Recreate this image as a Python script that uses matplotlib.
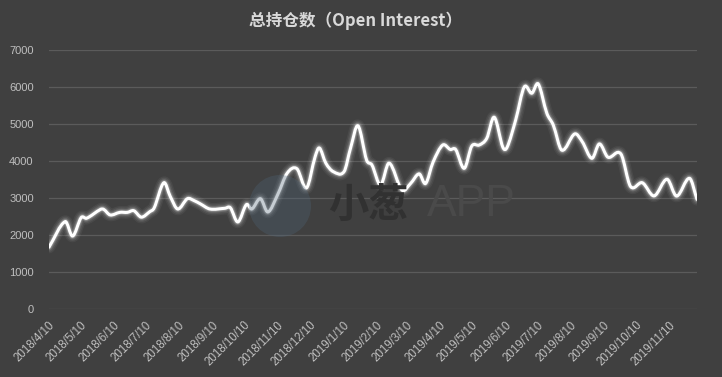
import matplotlib
matplotlib.use("Agg")
import matplotlib.pyplot as plt
import matplotlib.dates as mdates
from matplotlib.patches import Circle, PathPatch
from matplotlib.path import Path
import numpy as np
import pandas as pd

# open interest
dates = [
    "2018-04-07", "2018-04-22", "2018-04-29", "2018-05-07", "2018-05-12",
    "2018-05-25", "2018-05-28", "2018-06-03", "2018-06-12", "2018-06-19",
    "2018-06-25", "2018-07-02", "2018-07-10", "2018-07-14", "2018-07-23",
    "2018-07-29", "2018-08-05", "2018-08-14", "2018-08-20", "2018-08-26",
    "2018-09-04", "2018-09-18", "2018-09-23", "2018-09-30", "2018-10-08",
    "2018-10-13", "2018-10-21", "2018-10-28", "2018-11-06", "2018-11-15",
    "2018-11-24", "2018-12-03", "2018-12-11", "2018-12-15", "2018-12-21",
    "2018-12-28", "2019-01-07", "2019-01-13", "2019-01-20", "2019-01-28",
    "2019-02-02", "2019-02-10", "2019-02-18", "2019-03-02", "2019-03-10",
    "2019-03-18", "2019-03-24", "2019-03-31", "2019-04-09", "2019-04-16",
    "2019-04-21", "2019-04-29", "2019-05-06", "2019-05-13", "2019-05-20",
    "2019-05-27", "2019-06-04", "2019-06-08", "2019-06-16", "2019-06-24",
    "2019-07-01", "2019-07-07", "2019-07-15", "2019-07-21", "2019-07-29",
    "2019-08-10", "2019-08-17", "2019-08-26", "2019-09-02", "2019-09-10",
    "2019-09-22", "2019-10-01", "2019-10-12", "2019-10-23", "2019-11-04",
    "2019-11-13", "2019-11-25", "2019-12-02",
]
open_interest = [
    1680, 2370, 1980, 2480, 2460,
    2700, 2700, 2550, 2620, 2620,
    2665, 2490, 2640, 2740, 3420,
    3050, 2710, 2990, 2940, 2850,
    2710, 2730, 2745, 2360, 2830,
    2710, 2990, 2630, 3090, 3680,
    3800, 3280, 4120, 4360, 3950,
    3720, 3720, 4350, 4960, 4035,
    3900, 3360, 3950, 3220, 3400,
    3660, 3400, 3980, 4440, 4320,
    4320, 3810, 4410, 4440, 4620,
    5190, 4380, 4380, 5120, 6010,
    5840, 6090, 5300, 4980, 4300,
    4740, 4530, 4080, 4470, 4110,
    4200, 3320, 3420, 3065, 3515,
    3060, 3540, 2970,
]
tick_dates = pd.date_range("2018-04-01", "2019-11-01", freq="MS") + pd.Timedelta(days=9)
y_ticks = [0, 1000, 2000, 3000, 4000, 5000, 6000, 7000]

bg = "#404040"


def smooth_path(xs, ys):
    # smoothed line like excel: cubic bezier through every point
    xs = np.asarray(xs, float)
    ys = np.asarray(ys, float)
    n = len(xs)
    d = np.zeros(n)
    for i in range(n):
        a = max(i - 1, 0)
        b = min(i + 1, n - 1)
        d[i] = (ys[b] - ys[a]) / (xs[b] - xs[a])
    verts = [(xs[0], ys[0])]
    codes = [Path.MOVETO]
    for i in range(n - 1):
        h = xs[i + 1] - xs[i]
        verts += [(xs[i] + h / 3, ys[i] + d[i] * h / 3),
                  (xs[i + 1] - h / 3, ys[i + 1] - d[i + 1] * h / 3),
                  (xs[i + 1], ys[i + 1])]
        codes += [Path.CURVE4] * 3
    return Path(verts, codes)


fig = plt.figure(figsize=(7.22, 3.77), dpi=100, facecolor=bg)
ax = fig.add_axes([0.0679, 0.1796, 0.8975, 0.687])
ax.set_facecolor(bg)

# watermark
fig.patches.append(Circle((2.80, 1.71), 0.31, transform=fig.dpi_scale_trans,
                          facecolor="#4f6578", alpha=0.32, edgecolor="none", zorder=0))
fig.text(368 / 722, 1 - 205 / 377, "小葱", family=["Noto Sans CJK SC", "DejaVu Sans"],
         fontsize=29, fontweight="bold", color="#313131", ha="center", va="center", zorder=1)
fig.text(471 / 722, 1 - 205 / 377, "APP", family="Liberation Sans",
         fontsize=32, color="#4a4a4a", ha="center", va="center", zorder=1)

# glow + line
path = smooth_path(mdates.date2num(pd.to_datetime(dates)), open_interest)
for lw, a in [(9, 0.05), (7, 0.07), (5, 0.12), (3.6, 0.2)]:
    ax.add_patch(PathPatch(path, fill=False, edgecolor="white", lw=lw, alpha=a,
                           capstyle="round", joinstyle="round", zorder=3))
ax.add_patch(PathPatch(path, fill=False, edgecolor="white", lw=2.2,
                       capstyle="round", joinstyle="round", zorder=4))

ax.set_ylim(0, 7000)
ax.set_yticks(y_ticks)
ax.set_xlim(pd.Timestamp("2018-04-07"), pd.Timestamp("2019-12-02"))
ax.set_xticks(tick_dates)
ax.set_xticklabels([f"{d.year}/{d.month}/{d.day}" for d in tick_dates],
                   rotation=45, ha="right", va="center", rotation_mode="anchor")
ax.grid(axis="y", color="#5b5b5b", lw=0.9)
ax.set_axisbelow(True)
for s in ax.spines.values():
    s.set_visible(False)
ax.tick_params(axis="both", length=0, colors="#bfbfbf", labelsize=8)
ax.tick_params(axis="y", pad=11)
ax.tick_params(axis="x", pad=10, labelsize=8.3)
for lab in ax.get_xticklabels() + ax.get_yticklabels():
    lab.set_family("Liberation Sans")

fig.text(0.492, 0.945, "总持仓数（Open Interest）", family=["Noto Sans CJK SC", "DejaVu Sans"],
         fontsize=12, fontweight="bold", color="#d9d9d9", ha="center", va="center")

fig.savefig("out.png", dpi=100, facecolor=bg)
